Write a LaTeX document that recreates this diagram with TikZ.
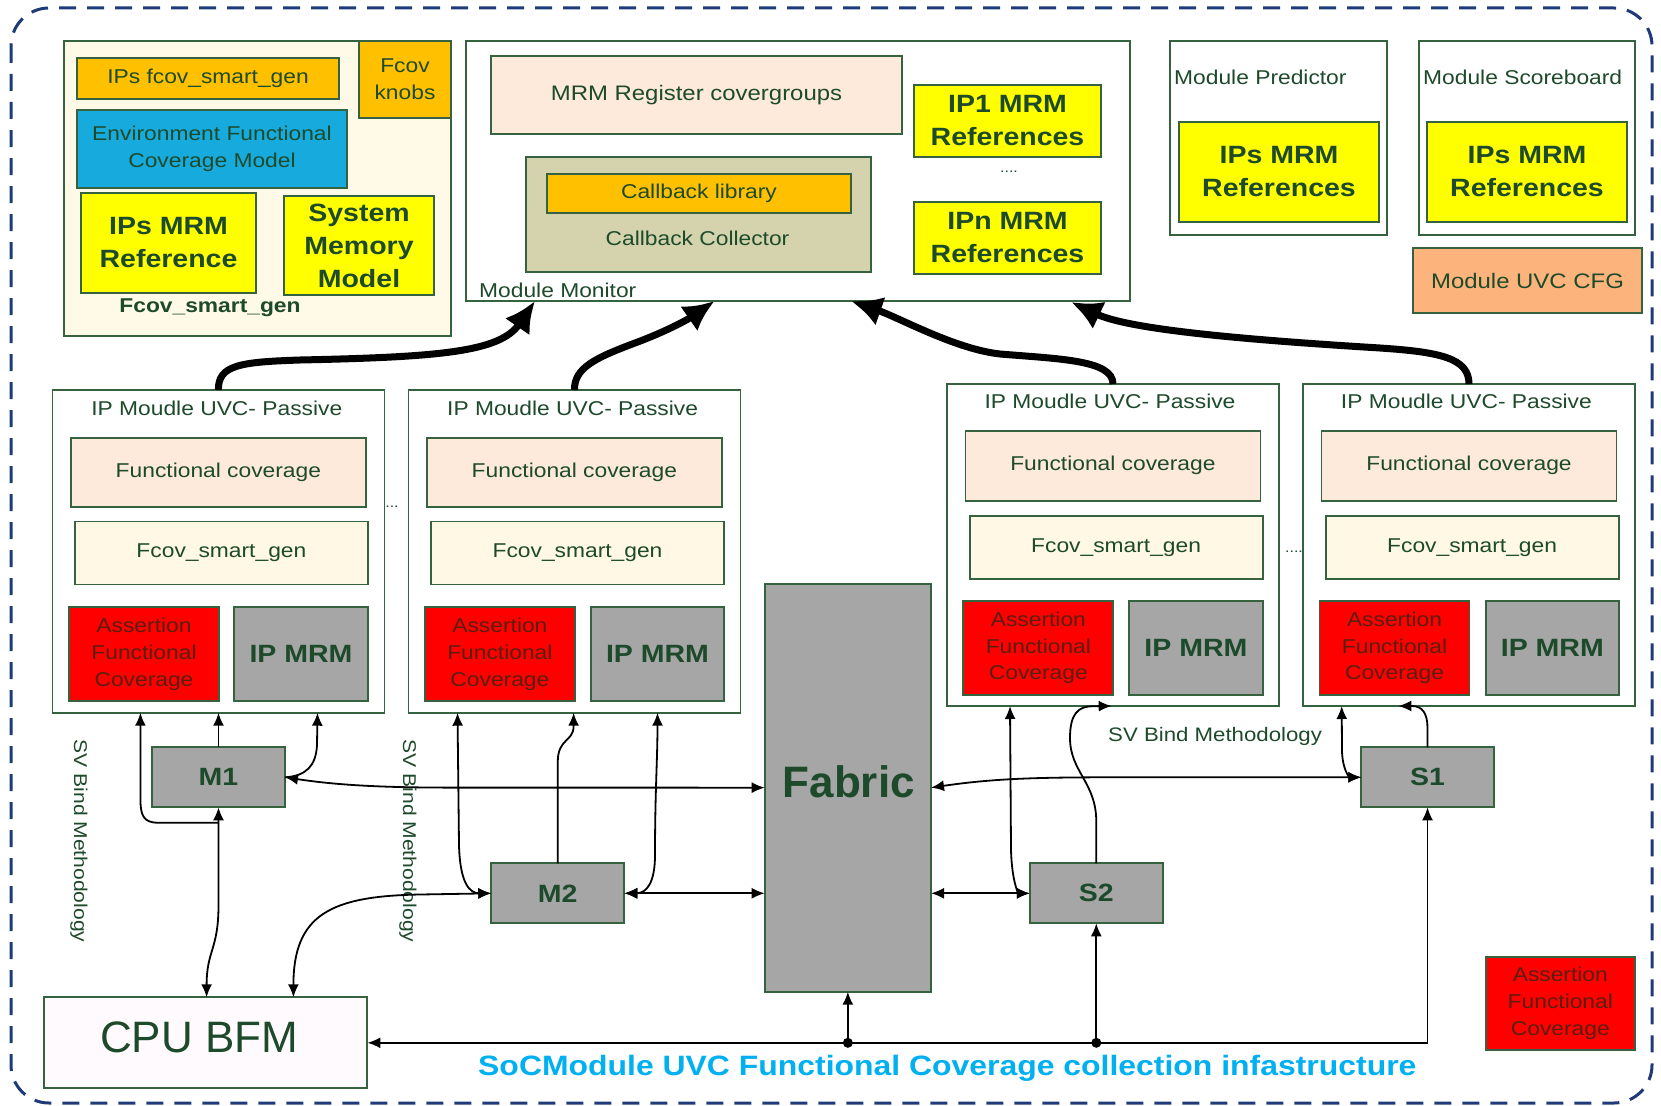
\documentclass[tikz,border=0pt]{standalone}
\usepackage{fontspec}
\setmainfont{Liberation Sans}[FakeStretch=1.14]
\newfontfamily\plainfont{Liberation Sans}
\usetikzlibrary{arrows.meta,calc}
\definecolor{bdr}{HTML}{36633F}
\definecolor{txt}{HTML}{1D4A2A}
\definecolor{cream}{HTML}{FFF9E8}
\definecolor{cream2}{HTML}{FEF8E4}
\definecolor{peach}{HTML}{FDEADB}
\definecolor{orng}{HTML}{FFC000}
\definecolor{envb}{HTML}{17ABDD}
\definecolor{yel}{HTML}{FFFF00}
\definecolor{khaki}{HTML}{D5D3AD}
\definecolor{salmon}{HTML}{FDB47C}
\definecolor{gry}{HTML}{A6A6A6}
\definecolor{rd}{HTML}{FF0000}
\definecolor{rdtxt}{HTML}{5A1E10}
\definecolor{cpuf}{HTML}{FFFAFD}
\definecolor{navy}{HTML}{1F3A78}
\definecolor{cyantxt}{HTML}{00B0F0}
\newcommand\nrm{\fontsize{20}{26.7}\selectfont}
\newcommand\hvy{\fontsize{25}{33}\selectfont\bfseries}
\begin{document}
\begin{tikzpicture}[x=1pt,y=-1pt,
  >={Latex[length=13pt,width=11pt]},
  bx/.style={draw=bdr,line width=1.8pt,inner sep=0pt,outer sep=0pt,text=txt,align=center,font=\nrm},
  lbl/.style={inner sep=0pt,text=txt,align=center,font=\nrm},
  hv/.style={font=\hvy},
  asr/.style={bx,fill=rd,text=rdtxt,minimum width=150pt,minimum height=94pt},
  mrm/.style={bx,fill=gry,hv,minimum width=133.5pt,minimum height=94pt},
  fcb/.style={bx,fill=peach,minimum width=295pt,minimum height=69pt},
  fsb/.style={bx,fill=cream2,minimum width=293pt,minimum height=63pt},
  ipb/.style={bx,fill=white,minimum width=332pt,minimum height=322pt},
  gbox/.style={bx,fill=gry,hv,minimum width=133pt,minimum height=60pt},
  conn/.style={line width=1.8pt,draw=black},
  fat/.style={line width=7pt,-{Latex[length=31pt,width=30pt]}}]
\useasboundingbox (0,0) rectangle (1661,1105);
\fill[white] (0,0) rectangle (1661,1105);
% outer dashed border
\draw[navy,line width=3pt,dash pattern=on 17pt off 11pt,rounded corners=38pt] (11,8) rectangle (1652,1103);

% Fcov_smart_gen block
\node[bx,fill=cream,minimum width=387pt,minimum height=295pt] (fcovbox) at (257.5,188.5) {};
\node[bx,fill=orng,minimum width=262pt,minimum height=41pt] (ipsfcov) at (208,78.5) {IPs fcov\_smart\_gen};
\node[bx,fill=orng,minimum width=92pt,minimum height=77pt] (knobs) at (405,79.5) {Fcov\\knobs};
\node[bx,fill=envb,minimum width=270pt,minimum height=78pt] (envfcm) at (212,149) {Environment Functional\\Coverage Model};
\node[bx,fill=yel,hv,minimum width=175pt,minimum height=100pt] (ipsref) at (168.5,243) {IPs MRM\\Reference};
\node[bx,fill=yel,hv,minimum width=150pt,minimum height=99pt] (sysmem) at (359,245.5) {System\\Memory\\Model};
\node[lbl,font=\fontsize{20}{24}\selectfont\bfseries] (fcovlbl) at (210,308) {Fcov\_smart\_gen};

% Module Monitor
\node[bx,fill=white,minimum width=663.6pt,minimum height=259.7pt] (mm) at (797.8,170.9) {};
\node[bx,fill=peach,minimum width=411pt,minimum height=78pt,font=\fontsize{21}{26}\selectfont] (mrmreg) at (696.5,95) {MRM Register covergroups};
\node[bx,fill=khaki,minimum width=345pt,minimum height=115pt] (cbcoll) at (698.5,214.5) {};
\node[bx,fill=orng,minimum width=304pt,minimum height=39pt] (cblib) at (699,193.5) {Callback library};
\node[lbl] (cbcolllbl) at (697.5,238) {Callback Collector};
\node[bx,fill=yel,hv,minimum width=187pt,minimum height=72pt] (ip1ref) at (1007.5,121) {IP1 MRM\\References};
\node[lbl,font=\fontsize{14}{14}\selectfont] (mmdots) at (1009,172) {....};
\node[bx,fill=yel,hv,minimum width=187pt,minimum height=72pt] (ipnref) at (1007.5,238) {IPn MRM\\References};
\node[lbl,anchor=west] (mmlbl) at (479,290) {Module Monitor};

% Predictor / Scoreboard / CFG
\node[bx,fill=white,minimum width=217pt,minimum height=194pt] (pred) at (1278.5,138) {};
\node[lbl,anchor=west] (predlbl) at (1174,77) {Module Predictor};
\node[bx,fill=yel,hv,minimum width=200pt,minimum height=100pt] (predref) at (1279,172) {IPs MRM\\References};
\node[bx,fill=white,minimum width=216pt,minimum height=194pt] (sb) at (1527,138) {};
\node[lbl,anchor=west] (sblbl) at (1423,77) {Module Scoreboard};
\node[bx,fill=yel,hv,minimum width=200pt,minimum height=100pt] (sbref) at (1527,172) {IPs MRM\\References};
\node[bx,fill=salmon,minimum width=229pt,minimum height=65pt,font=\fontsize{21}{26}\selectfont] (uvccfg) at (1527.5,280.5) {Module UVC CFG};

% IP module boxes
\node[ipb,minimum height=322.7pt] (ip1) at (218.4,551.35) {};
\node[lbl] (ip1t) at (216.8,408.3) {IP Moudle UVC- Passive};
\node[fcb] (fc1) at (218.4,472.5) {Functional coverage};
\node[fsb] (fs1) at (221.4,553) {Fcov\_smart\_gen};
\node[asr] (as1) at (144,654.2) {Assertion\\Functional\\Coverage};
\node[mrm] (mr1) at (301,654.2) {IP MRM};

\node[ipb,minimum height=322.7pt] (ip2) at (574.5,551.35) {};
\node[lbl] (ip2t) at (572.6,408.3) {IP Moudle UVC- Passive};
\node[fcb] (fc2) at (574.4,472.5) {Functional coverage};
\node[fsb] (fs2) at (577.5,553) {Fcov\_smart\_gen};
\node[asr] (as2) at (499.9,654.2) {Assertion\\Functional\\Coverage};
\node[mrm] (mr2) at (657.5,654.2) {IP MRM};

\node[ipb] (ip3) at (1113,545) {};
\node[lbl] (ip3t) at (1110,401) {IP Moudle UVC- Passive};
\node[fcb,minimum height=70pt] (fc3) at (1112.9,465.7) {Functional coverage};
\node[fsb] (fs3) at (1116.1,547.35) {Fcov\_smart\_gen};
\node[asr] (as3) at (1038.35,648) {Assertion\\Functional\\Coverage};
\node[mrm] (mr3) at (1195.9,648) {IP MRM};

\node[ipb] (ip4) at (1469,545) {};
\node[lbl] (ip4t) at (1466.4,401) {IP Moudle UVC- Passive};
\node[fcb,minimum height=70pt] (fc4) at (1469,465.7) {Functional coverage};
\node[fsb] (fs4) at (1472.1,547.35) {Fcov\_smart\_gen};
\node[asr] (as4) at (1394.5,648) {Assertion\\Functional\\Coverage};
\node[mrm] (mr4) at (1552.35,648) {IP MRM};

\node[lbl,font=\fontsize{14}{14}\selectfont] (dots1) at (392,507) {...};
\node[lbl,font=\fontsize{14}{14}\selectfont] (dots2) at (1294,552) {....};

% lower blocks
\node[gbox] (M1) at (218.5,777.3) {M1};
\node[gbox] (M2) at (557.75,893.3) {M2};
\node[gbox,minimum width=132.5pt] (S1) at (1427.5,777.3) {S1};
\node[gbox] (S2) at (1096.3,893.3) {S2};
\node[bx,fill=gry,minimum width=166.3pt,minimum height=408.1pt] (Fabric) at (847.85,787.65) {};
\node[lbl,font=\plainfont\fontsize{44}{44}\selectfont\bfseries] (fabriclbl) at (848.7,782) {Fabric};
\node[bx,fill=cpuf,minimum width=323pt,minimum height=91pt] (CPU) at (205.85,1042.8) {};
\node[lbl,font=\plainfont\fontsize{44}{44}\selectfont] (cpulbl) at (199,1037) {CPU BFM};
\node[bx,fill=rd,text=rdtxt,minimum width=148.6pt,minimum height=93.3pt] (as5) at (1560.3,1003.35) {Assertion\\Functional\\Coverage};

% labels
\node[lbl,rotate=-90,font=\fontsize{18.5}{20}\selectfont] (svb1) at (79,841) {SV Bind Methodology};
\node[lbl,rotate=-90,font=\fontsize{18.5}{20}\selectfont] (svb2) at (408,841) {SV Bind Methodology};
\node[lbl,anchor=west,font=\fontsize{19.5}{20}\selectfont] (svb3) at (1108,736.7) {SV Bind Methodology};
\node[lbl,anchor=west,text=cyantxt,font=\fontsize{28}{28}\selectfont\bfseries] (title) at (478,1068) {SoCModule UVC Functional Coverage collection infastructure};

% ports
\coordinate (p1a) at (140.4,712.7);
\coordinate (p1c) at (317.5,712.7);
\coordinate (p2a) at (457.5,712.7);
\coordinate (p2b) at (573.6,712.7);
\coordinate (p2c) at (657.5,712.7);
\coordinate (p3a) at (1010,706);
\coordinate (p3b) at (1111.7,706);
\coordinate (p4a) at (1341.7,706);
\coordinate (p4b) at (1398.3,706);
\coordinate (j1) at (218.5,822.7);
\coordinate (cpu1) at (206.6,997.3);
\coordinate (cpu2) at (293.4,997.3);
\coordinate (t1) at (535,301);
\coordinate (t2) at (714.6,301);
\coordinate (t3) at (851,301);
\coordinate (t4) at (1071,302);

% thin connectors
\draw[conn,->] (M1.north) -- (M1.north |- ip1.south);
\draw[conn,->] (j1) -- (158,822.7) .. controls (143,822.7) and (140.4,815) .. (140.4,798) -- (p1a);
\draw[conn,->] (M1.east) .. controls (306,776) and (316,766) .. (317,745) -- (p1c);
\draw[conn,<->] (M1.east) .. controls (330,784) and (370,787.6) .. (450,787.6) -- (Fabric.west);
\draw[conn,<->] (M1.south) -- (218.5,905) .. controls (218.5,950) and (206.6,950) .. (cpu1);
\draw[conn,<->] (cpu2) .. controls (293.4,915) and (330,896) .. (420,894.5) -- (M2.west);
\draw[conn,<->] (p2a) -- (459,845) .. controls (460,884) and (470,893.3) .. (M2.west);
\draw[conn,->] (M2.north) -- (557.75,762) .. controls (557.75,738) and (573.6,742) .. (573.6,726) -- (p2b);
\draw[conn,<->] (M2.east) .. controls (647,893.3) and (655,882) .. (655,855) .. controls (655,790) and (657.5,760) .. (p2c);
\draw[conn,<->] (M2.east) -- (M2.east -| Fabric.west);
\draw[conn,<->] (Fabric.east) .. controls (990,779) and (1030,777.5) .. (1100,777.3) -- (S1.west);
\draw[conn,<->] (S2.west -| Fabric.east) -- (S2.west);
\draw[conn,<->] (p3a) -- (1011,850) .. controls (1012,884) and (1019,893.3) .. (S2.west);
\draw[conn,->] (S2.north) -- (1096.3,822) .. controls (1096.3,782) and (1070,772) .. (1070,738) .. controls (1070,714) and (1078,706.5) .. (1092,706.2) -- (p3b);
\draw[conn,<->] (p4a) -- (1342,752) .. controls (1343,772) and (1350,777.3) .. (S1.west);
\draw[conn,->] (S1.north) -- (1427.5,728) .. controls (1427.5,713) and (1422,706) .. (1412,706) -- (p4b);
\draw[conn,<->] (CPU.east) -| (S1.south);
\coordinate (dF) at (Fabric.south |- CPU.east);
\coordinate (dS) at (S2.south |- CPU.east);
\fill (dF) circle (5pt);
\fill (dS) circle (5pt);
\draw[conn,->] (dF) -- (Fabric.south);
\draw[conn,->] (dS) -- (S2.south);

% thick arrows to Module Monitor
\draw[fat] (ip1.north) .. controls (218,365) and (240,362) .. (300,360) .. controls (440,357) and (500,352) .. (t1);
\draw[fat] (ip2.north) .. controls (574,368) and (595,358) .. (635,343) .. controls (670,330) and (690,318) .. (t2);
\draw[fat] (ip3.north) .. controls (1113,360) and (1060,359) .. (1000,354) .. controls (955,349) and (900,318) .. (t3);
\draw[fat] (ip4.north) .. controls (1469,358) and (1440,352) .. (1380,348) .. controls (1250,340) and (1130,330) .. (t4);
\end{tikzpicture}
\end{document}
